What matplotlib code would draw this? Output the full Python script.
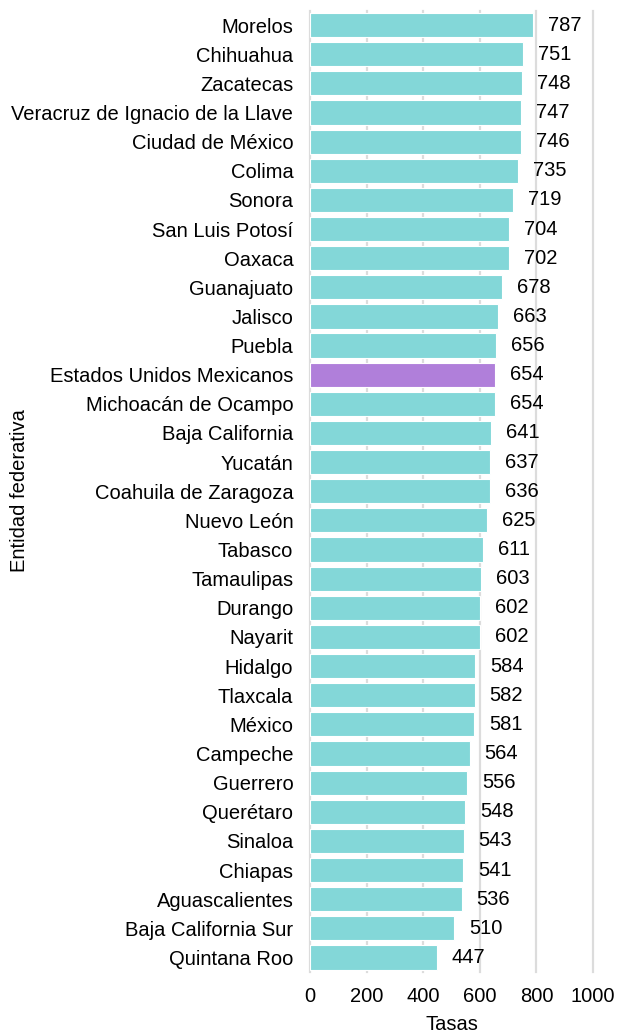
import matplotlib
matplotlib.use('Agg')
import matplotlib.pyplot as plt

# datos: tasas por entidad federativa
entidades = ['Morelos', 'Chihuahua', 'Zacatecas', 'Veracruz de Ignacio de la Llave',
             'Ciudad de México', 'Colima', 'Sonora', 'San Luis Potosí', 'Oaxaca',
             'Guanajuato', 'Jalisco', 'Puebla', 'Estados Unidos Mexicanos',
             'Michoacán de Ocampo', 'Baja California', 'Yucatán', 'Coahuila de Zaragoza',
             'Nuevo León', 'Tabasco', 'Tamaulipas', 'Durango', 'Nayarit', 'Hidalgo',
             'Tlaxcala', 'México', 'Campeche', 'Guerrero', 'Querétaro', 'Sinaloa',
             'Chiapas', 'Aguascalientes', 'Baja California Sur', 'Quintana Roo']
tasas = [787, 751, 748, 747, 746, 735, 719, 704, 702, 678, 663, 656, 654, 654, 641,
         637, 636, 625, 611, 603, 602, 602, 584, 582, 581, 564, 556, 548, 543, 541,
         536, 510, 447]
ticks_x = [0, 200, 400, 600, 800, 1000]

plt.rcParams['font.family'] = ['Liberation Sans', 'DejaVu Sans']
fs = 14.5

fig = plt.figure(figsize=(6.18, 10.34), dpi=100)
ax = fig.add_axes([310/618, 1-972/1034, (593-310)/618, (972-10.5)/1034])

colores = ['#B07FDA' if e == 'Estados Unidos Mexicanos' else '#83D7D8' for e in entidades]
y = list(range(len(entidades)))
ax.barh(y, tasas, height=0.83, color=colores, edgecolor='white', linewidth=0.8, zorder=2)

# etiquetas de valor
for yi, v in zip(y, tasas):
    ax.text(v + 53, yi, str(v), va='center', ha='left', fontsize=fs, color='black')

ax.set_xlim(0, 1000)
ax.set_ylim(len(entidades)-0.5, -0.5)
ax.set_yticks(y)
ax.set_yticklabels(entidades, fontsize=fs)
ax.set_xticks(ticks_x)
ax.set_xticklabels([str(t) for t in ticks_x], fontsize=fs)
ax.tick_params(length=0, pad=12)
ax.tick_params(axis='x', pad=11)
ax.grid(axis='x', color='#DCDCDC', linewidth=1.6, zorder=0)
for gl in ax.get_xgridlines():
    gl.set_clip_on(False)
ax.set_axisbelow(True)
for s in ax.spines.values():
    s.set_visible(False)
ax.set_xlabel('Tasas', fontsize=fs, labelpad=6)
fig.text(20/618, 1-491/1034, 'Entidad federativa', rotation=90,
         va='center', ha='center', fontsize=fs)

fig.savefig('out.png', dpi=100)
